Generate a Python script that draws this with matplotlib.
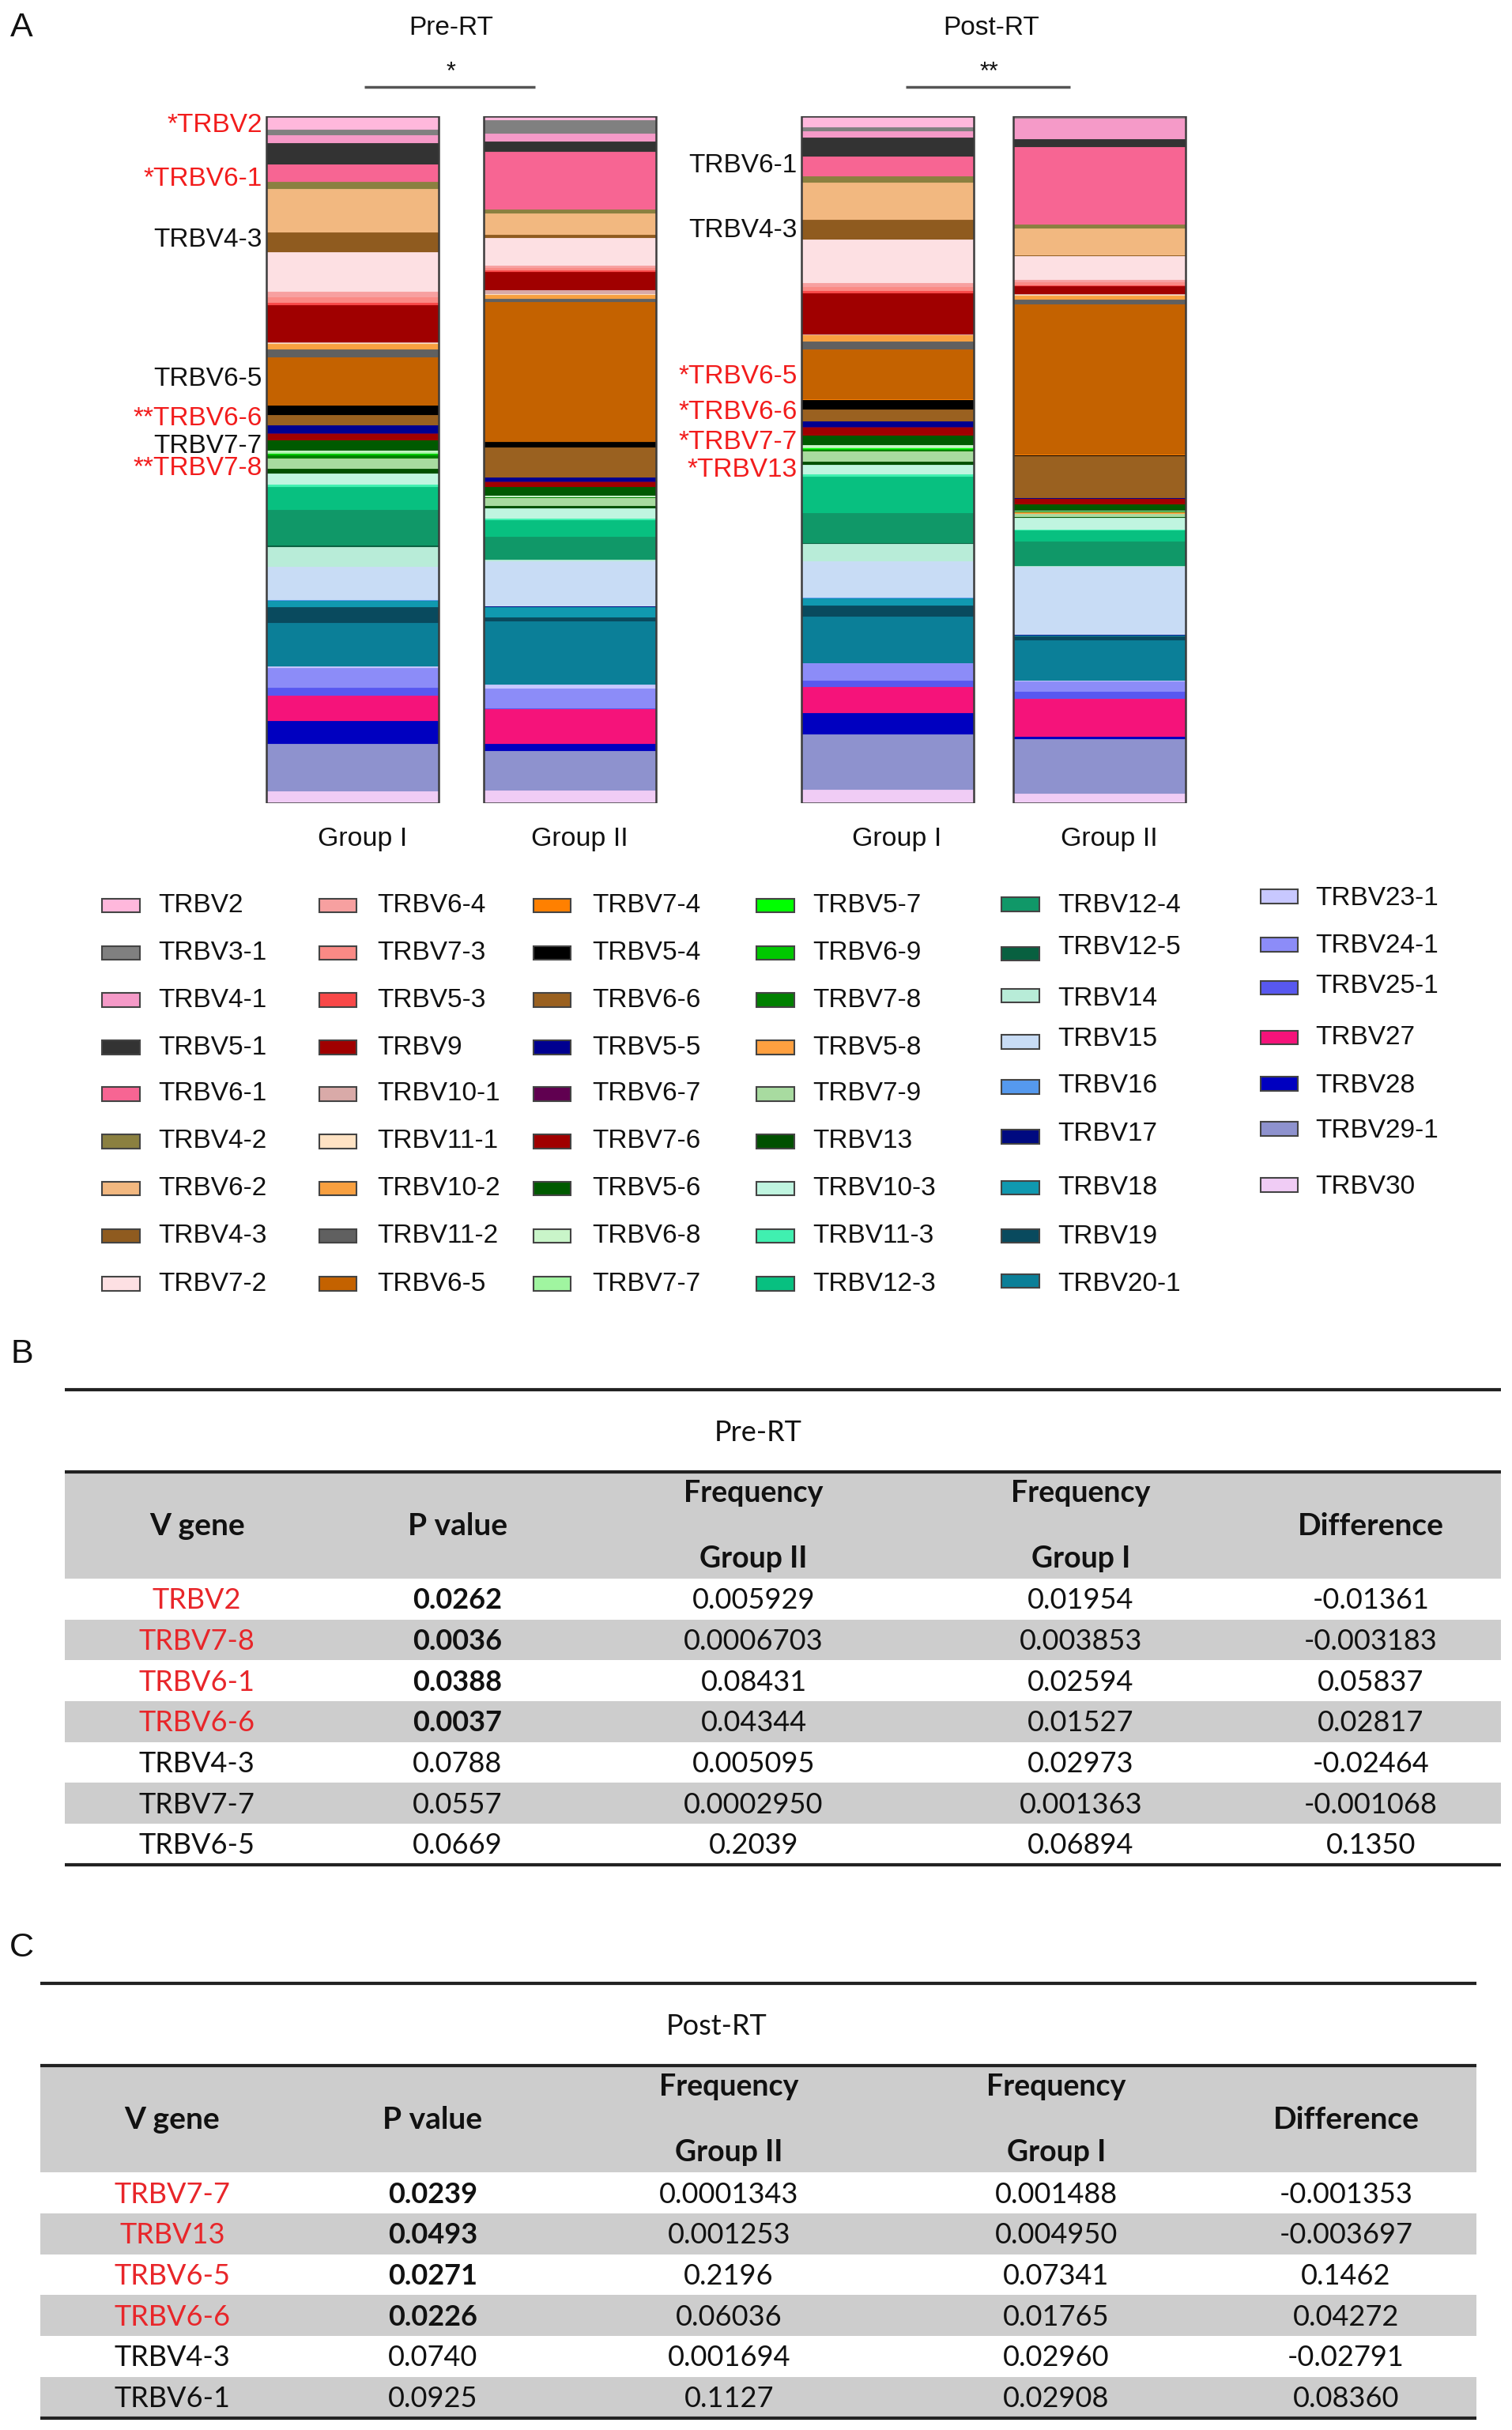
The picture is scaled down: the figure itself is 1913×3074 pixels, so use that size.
import numpy as np
import matplotlib.pyplot as plt
from matplotlib.patches import Rectangle

# ---- data ----------------------------------------------------------------
genes = ["TRBV2", "TRBV3-1", "TRBV4-1", "TRBV5-1", "TRBV6-1", "TRBV4-2", "TRBV6-2", "TRBV4-3", "TRBV7-2",
         "TRBV6-4", "TRBV7-3", "TRBV5-3", "TRBV9", "TRBV10-1", "TRBV11-1", "TRBV10-2", "TRBV11-2", "TRBV6-5",
         "TRBV7-4", "TRBV5-4", "TRBV6-6", "TRBV5-5", "TRBV6-7", "TRBV7-6", "TRBV5-6", "TRBV6-8", "TRBV7-7",
         "TRBV5-7", "TRBV6-9", "TRBV7-8", "TRBV5-8", "TRBV7-9", "TRBV13", "TRBV10-3", "TRBV11-3", "TRBV12-3",
         "TRBV12-4", "TRBV12-5", "TRBV14", "TRBV15", "TRBV16", "TRBV17", "TRBV18", "TRBV19", "TRBV20-1",
         "TRBV23-1", "TRBV24-1", "TRBV25-1", "TRBV27", "TRBV28", "TRBV29-1", "TRBV30"]

gene_colors = ["#ffb8dc", "#808080", "#f59ac8", "#333333", "#f76593", "#8b8040", "#f2b880", "#8f5b1f", "#fde0e3",
               "#f7a0a0", "#fa8a85", "#f84848", "#a00000", "#d9aaa8", "#ffe3c4", "#f8a040", "#606060", "#c46200",
               "#ff8000", "#000000", "#9a6120", "#000090", "#600050", "#a00000", "#005a00", "#c9f5c9", "#a0f5a0",
               "#00ff00", "#00c800", "#008000", "#ffa040", "#a8dba0", "#005000", "#c0f5e0", "#40f0b0", "#08c080",
               "#109868", "#086040", "#b8ecd8", "#c8dcf5", "#5599ee", "#000a80", "#1099b0", "#094a5e", "#0b7f98",
               "#c8c8ff", "#8c8cf8", "#5858f0", "#f5137a", "#0000c0", "#8e92ce", "#f0ccf5"]

# frequencies in percent, same order as genes
pre_g1 = [1.954, 0.77, 1.15, 3.08, 2.594, 0.96, 6.27, 2.973, 5.69,
          0.77, 0.77, 0.38, 5.38, 0.12, 0.12, 0.85, 1.15, 6.894,
          0.08, 1.35, 1.527, 1.15, 0.12, 0.85, 1.54, 0.23, 0.1363,
          0.08, 0.23, 0.3853, 0.08, 1.42, 0.77, 1.54, 0.38, 3.27,
          5.19, 0.19, 2.88, 4.81, 0.12, 0.08, 0.85, 2.31, 6.35,
          0.19, 2.88, 1.15, 3.65, 3.27, 6.92, 1.73]
pre_g2 = [0.5929, 1.92, 1.15, 1.54, 8.431, 0.58, 3.08, 0.5095, 3.96,
          0.38, 0.38, 0.19, 2.69, 0.58, 0.12, 0.58, 0.46, 20.39,
          0.04, 0.77, 4.344, 0.65, 0.12, 0.65, 1.27, 0.19, 0.0295,
          0.02, 0.04, 0.06703, 0.02, 1.08, 0.38, 1.54, 0.19, 2.5,
          3.27, 0.08, 0.19, 6.54, 0.08, 0.04, 1.54, 0.58, 9.23,
          0.58, 2.88, 0.12, 5.08, 0.96, 5.77, 1.92]
post_g1 = [1.62, 0.58, 0.96, 2.69, 2.908, 0.96, 5.38, 2.96, 6.35,
           0.58, 0.58, 0.38, 5.96, 0.1, 0.1, 0.85, 1.15, 7.341,
           0.05, 1.46, 1.765, 0.77, 0.08, 1.15, 1.46, 0.3, 0.1488,
           0.05, 0.15, 0.2, 0.05, 1.5, 0.495, 1.38, 0.38, 5.27,
           4.42, 0.1, 2.5, 5.38, 0.08, 0.05, 0.96, 1.73, 6.73,
           0.1, 2.5, 0.96, 3.77, 3.15, 8.08, 2.0]
post_g2 = [0.19, 0.12, 3.0, 1.23, 11.27, 0.58, 3.85, 0.1694, 3.46,
           0.38, 0.38, 0.19, 1.15, 0.12, 0.08, 0.58, 0.69, 21.96,
           0.03, 0.19, 6.036, 0.12, 0.08, 0.77, 0.96, 0.05, 0.01343,
           0.02, 0.03, 0.05, 0.31, 0.38, 0.1253, 1.73, 0.19, 1.54,
           3.54, 0.05, 0.1, 9.92, 0.05, 0.03, 0.12, 0.58, 5.96,
           0.1, 1.54, 0.96, 5.58, 0.31, 7.96, 1.42]

bar_series = [pre_g1, pre_g2, post_g1, post_g2]
bar_names = ["Group I", "Group II", "Group I", "Group II"]
phase_names = ["Pre-RT", "Post-RT"]
phase_stars = ["*", "**"]

pre_marks = ["*TRBV2", "*TRBV6-1", "TRBV4-3", "TRBV6-5", "**TRBV6-6", "TRBV7-7", "**TRBV7-8"]
pre_marks_sig = [True, True, False, False, True, False, True]
post_marks = ["TRBV6-1", "TRBV4-3", "*TRBV6-5", "*TRBV6-6", "*TRBV7-7", "*TRBV13"]
post_marks_sig = [False, False, True, True, True, True]

table_cols = ["V gene", "P value", "Frequency", "Frequency", "Difference"]
table_sub = ["", "", "Group II", "Group I", ""]

pre_genes = ["TRBV2", "TRBV7-8", "TRBV6-1", "TRBV6-6", "TRBV4-3", "TRBV7-7", "TRBV6-5"]
pre_p = ["0.0262", "0.0036", "0.0388", "0.0037", "0.0788", "0.0557", "0.0669"]
pre_f2 = ["0.005929", "0.0006703", "0.08431", "0.04344", "0.005095", "0.0002950", "0.2039"]
pre_f1 = ["0.01954", "0.003853", "0.02594", "0.01527", "0.02973", "0.001363", "0.06894"]
pre_diff = ["-0.01361", "-0.003183", "0.05837", "0.02817", "-0.02464", "-0.001068", "0.1350"]

post_genes = ["TRBV7-7", "TRBV13", "TRBV6-5", "TRBV6-6", "TRBV4-3", "TRBV6-1"]
post_p = ["0.0239", "0.0493", "0.0271", "0.0226", "0.0740", "0.0925"]
post_f2 = ["0.0001343", "0.001253", "0.2196", "0.06036", "0.001694", "0.1127"]
post_f1 = ["0.001488", "0.004950", "0.07341", "0.01765", "0.02960", "0.02908"]
post_diff = ["-0.001353", "-0.003697", "0.1462", "0.04272", "-0.02791", "0.08360"]

# ---- layout (units of a 975 x 1567 grid) ---------------------------------
W, H = 975.0, 1567.0
SANS = "Liberation Sans"
TAB = "Lato"
RED = "#f21c1c"
TRED = "#e8262a"
LAB_FS = 24
TAB_FS = 26


def rect(x0, y0, x1, y1):
    return [x0 / W, 1 - y1 / H, (x1 - x0) / W, (y1 - y0) / H]


fig = plt.figure(figsize=(19.13, 30.74), dpi=100)
canvas = fig.add_axes([0, 0, 1, 1])
canvas.set_xlim(0, W)
canvas.set_ylim(H, 0)
canvas.axis("off")

# ---- panel A: stacked bars -----------------------------------------------
bar_x = [227.5, 367.5, 572.5, 709.0]
bar_w = 111
ax = fig.add_axes(rect(150, 75, 790, 518))
ax.set_facecolor("none")
ax.set_xlim(150, 790)
ax.set_ylim(1, 0)
ax.axis("off")

for x, vals in zip(bar_x, bar_series):
    v = np.array(vals, dtype=float)
    v = v / v.sum()
    start = np.concatenate([[0], np.cumsum(v)[:-1]])
    ax.bar([x] * len(v), v, bottom=start, width=bar_w, color=gene_colors,
           edgecolor=gene_colors, linewidth=0.6)
ax.bar(bar_x, [1] * 4, bottom=0, width=bar_w, fill=False, edgecolor="#3c3c3c", linewidth=1.8)

for x, name in zip(bar_x, bar_names):
    canvas.text(x + 6, 541, name, ha="center", va="center", fontsize=LAB_FS + 0.5, family=SANS, color="#111")

canvas.text(14, 18, "A", ha="center", va="center", fontsize=31, family=SANS, color="#111")
for name, star, cx, x0, x1 in zip(phase_names, phase_stars, [291, 639], [235, 584], [345, 690]):
    canvas.text(cx, 18, name, ha="center", va="center", fontsize=24, family=SANS, color="#111")
    canvas.text((x0 + x1) / 2 + 1, 47, star, ha="center", va="center", fontsize=22, family=SANS, color="#111")
    canvas.plot([x0, x1], [56, 56], color="#555555", lw=2.5, solid_capstyle="butt")

pre_mark_y = [80.6, 115.5, 154.5, 244.6, 269.8, 288, 302]
post_mark_y = [107, 148.7, 243, 266, 285.4, 303]
for labels, sig, ys, xr in [(pre_marks, pre_marks_sig, pre_mark_y, 169),
                            (post_marks, post_marks_sig, post_mark_y, 514)]:
    for lab, s, y in zip(labels, sig, ys):
        canvas.text(xr, y, lab, ha="right", va="center", fontsize=LAB_FS, family=SANS,
                    color=RED if s else "#111")

# ---- legend ----------------------------------------------------------------
col_patch_x = [66, 206, 344, 488, 646, 813]
col_text_x = [102, 243, 382, 524, 682, 848]
rows_std = [584, 614.5, 645, 675.5, 705.5, 736, 766.5, 797, 828]
text_rows = [rows_std, rows_std, rows_std, rows_std,
             [584, 611, 644, 670, 700, 731.5, 766, 797.5, 828],
             [579.5, 610, 636, 669, 700, 729, 765.6]]
patch_rows = [rows_std, rows_std, rows_std, rows_std,
              [583, 615, 642, 672, 701, 733, 766, 797, 826],
              [578, 609, 637, 669, 699, 728, 764]]
k = 0
for c in range(6):
    for ty, py in zip(text_rows[c], patch_rows[c]):
        canvas.add_patch(Rectangle((col_patch_x[c], py - 4.5), 24, 9, facecolor=gene_colors[k],
                                   edgecolor="#444444", linewidth=1.5))
        canvas.text(col_text_x[c], ty, genes[k], ha="left", va="center", fontsize=LAB_FS,
                    family=SANS, color="#111")
        k += 1


# ---- panels B and C: tables -------------------------------------------------
def draw_table(dx, dy, letter, title, title_x, g, p, f2, f1, d, nsig):
    left, right = 42 + dx, 968 + dx
    cx = [127 + dx, 295 + dx, 486 + dx, 697 + dx, 884 + dx]
    canvas.text(14, 873 + dy, letter, ha="center", va="center", fontsize=31, family=SANS, color="#111")
    canvas.plot([left, right], [896 + dy] * 2, color="#222222", lw=3, solid_capstyle="butt")
    canvas.text(title_x, 924 + dy, title, ha="center", va="center", fontsize=TAB_FS, family=TAB, color="#111")
    hdr_top, hdr_bot = 949 + dy, 1018 + dy
    canvas.add_patch(Rectangle((left, hdr_top), right - left, hdr_bot - hdr_top,
                               facecolor="#cdcdcd", edgecolor="none"))
    canvas.plot([left, right], [hdr_top] * 2, color="#222222", lw=3, solid_capstyle="butt")
    for x, name, sub in zip(cx, table_cols, table_sub):
        if sub:
            canvas.text(x, 963 + dy, name, ha="center", va="center", fontsize=TAB_FS + 1, family=TAB,
                        weight="bold", color="#111")
            canvas.text(x, 1005 + dy, sub, ha="center", va="center", fontsize=TAB_FS + 1, family=TAB,
                        weight="bold", color="#111")
        else:
            canvas.text(x, 984 + dy, name, ha="center", va="center", fontsize=TAB_FS + 2, family=TAB,
                        weight="bold", color="#111")
    rh = 26.35
    for i in range(len(g)):
        y0 = hdr_bot + i * rh
        if i % 2 == 1:
            canvas.add_patch(Rectangle((left, y0), right - left, rh, facecolor="#cdcdcd", edgecolor="none"))
        yc = y0 + rh / 2 + 1
        sig = i < nsig
        canvas.text(cx[0], yc, g[i], ha="center", va="center", fontsize=TAB_FS, family=TAB,
                    color=TRED if sig else "#111")
        canvas.text(cx[1], yc, p[i], ha="center", va="center", fontsize=TAB_FS, family=TAB,
                    weight="bold" if sig else "normal", color="#111")
        for x, val in zip(cx[2:], [f2[i], f1[i], d[i]]):
            canvas.text(x, yc, val, ha="center", va="center", fontsize=TAB_FS, family=TAB, color="#111")
    bottom = hdr_bot + len(g) * rh
    canvas.plot([left, right], [bottom] * 2, color="#222222", lw=3, solid_capstyle="butt")


draw_table(0, 0, "B", "Pre-RT", 489, pre_genes, pre_p, pre_f2, pre_f1, pre_diff, 4)
draw_table(-16, 383, "C", "Post-RT", 462, post_genes, post_p, post_f2, post_f1, post_diff, 4)

fig.savefig("out.png", dpi=100, facecolor="white")
